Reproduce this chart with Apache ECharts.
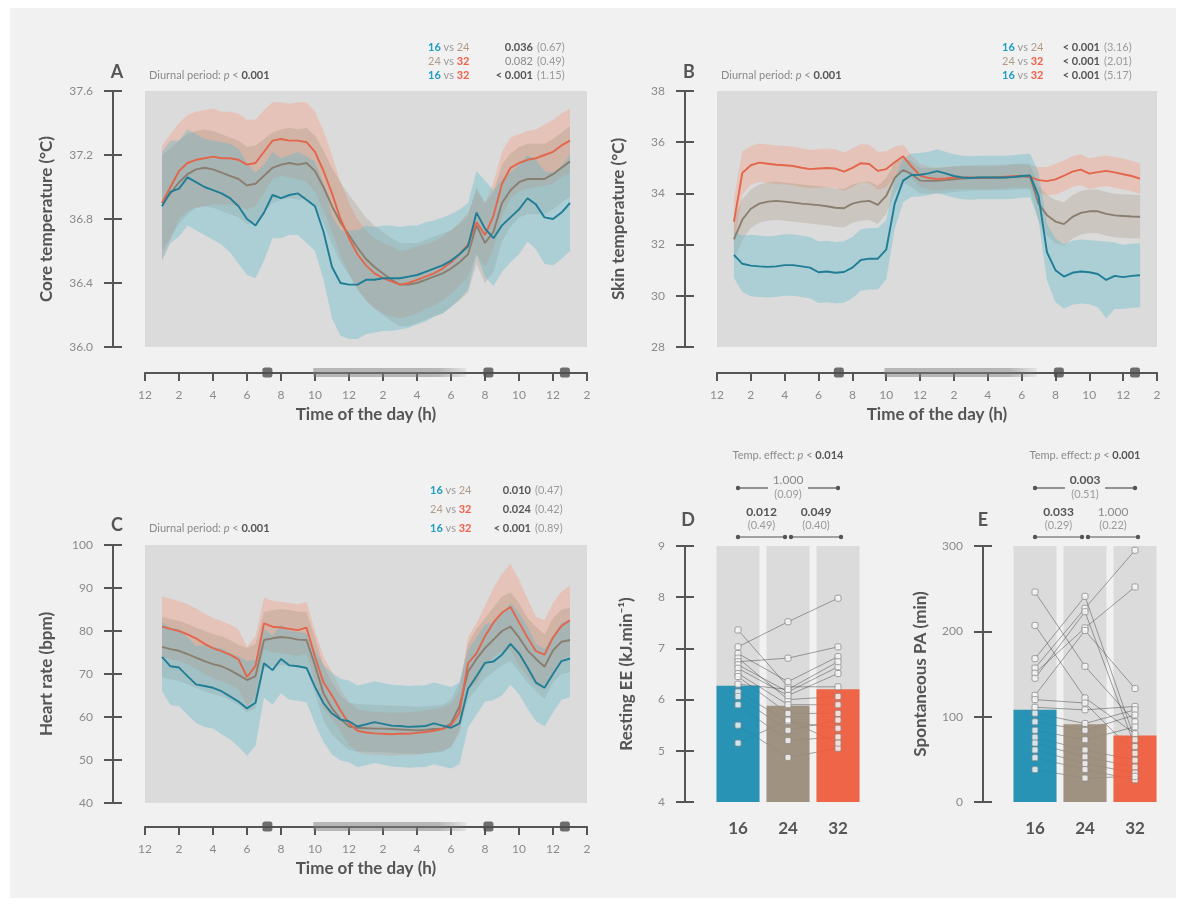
<!DOCTYPE html>
<html><head><meta charset="utf-8">
<script src="https://cdn.jsdelivr.net/npm/echarts@6/dist/echarts.min.js"></script>
<style>
html,body{margin:0;padding:0;background:#fff;}
#wrap{position:relative;width:1184px;height:906px;}
#bg{position:absolute;left:10px;top:8px;width:1166px;height:890px;background:#f1f1f1;}
#c{position:absolute;left:0;top:0;width:1184px;height:906px;}
</style></head><body>
<div id="wrap"><div id="bg"></div><div id="c"></div></div>
<script>
// ---------- DATA ----------
const hours = [1,1.5,2,2.5,3,3.5,4,4.5,5,5.5,6,6.5,7,7.5,8,8.5,9,9.5,10,10.5,11,11.5,12,12.5,13,13.5,14,14.5,15,15.5,16,16.5,17,17.5,18,18.5,19,19.5,20,20.5,21,21.5,22,22.5,23,23.5,24,24.5,25];

const coreMean16 = [36.88,36.97,36.99,37.06,37.03,37.0,36.98,36.96,36.93,36.88, 36.8,36.76,36.84,36.95,36.93,36.95,36.96,36.92,36.88,36.72, 36.5,36.4,36.39,36.39,36.42,36.42,36.43,36.43,36.43,36.44, 36.45,36.47,36.49,36.51,36.54,36.58,36.63,36.84,36.74,36.68, 36.76,36.81,36.86,36.93,36.89,36.81,36.8,36.84,36.9];
const coreMean24 = [36.9,36.96,37.03,37.08,37.11,37.12,37.11,37.09,37.07,37.05, 37.01,37.02,37.07,37.12,37.14,37.15,37.14,37.15,37.1,37.0, 36.88,36.78,36.7,36.62,36.55,36.5,36.46,36.42,36.39,36.39, 36.4,36.42,36.44,36.46,36.49,36.53,36.58,36.76,36.65,36.72, 36.9,36.98,37.03,37.05,37.05,37.05,37.08,37.12,37.16];
const coreMean32 = [36.9,37.0,37.1,37.15,37.17,37.18,37.19,37.18,37.18,37.17, 37.14,37.15,37.22,37.29,37.3,37.29,37.29,37.28,37.22,37.1, 36.96,36.8,36.68,36.58,36.51,36.46,36.43,36.41,36.39,36.4, 36.42,36.44,36.46,36.49,36.53,36.58,36.64,36.78,36.7,36.82, 37.02,37.12,37.15,37.17,37.18,37.2,37.22,37.26,37.29];
const coreSd16 = [0.34,0.32,0.3,0.3,0.3,0.3,0.31,0.32,0.34,0.36, 0.35,0.33,0.3,0.27,0.25,0.25,0.26,0.27,0.28,0.3, 0.32,0.33,0.34,0.34,0.34,0.33,0.33,0.33,0.32,0.32, 0.31,0.31,0.3,0.3,0.29,0.28,0.27,0.26,0.3,0.3, 0.29,0.28,0.28,0.27,0.28,0.29,0.29,0.29,0.3];
const coreSd24 = [0.3,0.28,0.26,0.25,0.24,0.24,0.24,0.24,0.24,0.24, 0.24,0.24,0.23,0.22,0.22,0.22,0.22,0.22,0.22,0.23, 0.24,0.25,0.25,0.26,0.26,0.26,0.26,0.26,0.26,0.26, 0.25,0.25,0.25,0.25,0.24,0.24,0.24,0.24,0.25,0.25, 0.24,0.23,0.22,0.22,0.22,0.22,0.22,0.22,0.22];
const coreSd32 = [0.36,0.33,0.3,0.3,0.3,0.3,0.3,0.29,0.29,0.29, 0.28,0.27,0.26,0.24,0.23,0.23,0.24,0.25,0.25,0.25, 0.24,0.23,0.22,0.22,0.22,0.22,0.22,0.22,0.21,0.21, 0.21,0.2,0.2,0.2,0.2,0.2,0.2,0.2,0.2,0.21, 0.2,0.19,0.18,0.18,0.18,0.19,0.2,0.2,0.2];

const skinMean16 = [31.6,31.25,31.18,31.15,31.13,31.15,31.2,31.2,31.15,31.1, 30.92,30.95,30.9,30.93,31.1,31.4,31.45,31.45,31.8,33.6, 34.5,34.72,34.73,34.78,34.87,34.78,34.68,34.62,34.6,34.62, 34.62,34.62,34.62,34.64,34.68,34.7,33.9,31.7,31.0,30.75, 30.9,30.95,30.92,30.85,30.62,30.78,30.73,30.78,30.8];
const skinMean24 = [32.2,32.98,33.4,33.6,33.68,33.71,33.68,33.64,33.6,33.57, 33.54,33.5,33.44,33.42,33.6,33.68,33.71,33.55,33.9,34.6, 34.92,34.75,34.5,34.49,34.49,34.52,34.55,34.58,34.6,34.62, 34.62,34.62,34.62,34.65,34.67,34.65,33.6,33.15,32.9,32.8, 33.08,33.24,33.3,33.3,33.2,33.14,33.12,33.1,33.09];
const skinMean32 = [32.9,34.8,35.1,35.2,35.16,35.12,35.1,35.07,35.0,34.95, 34.97,34.99,34.97,34.85,35.0,35.18,35.15,34.88,34.95,35.22, 35.45,35.05,34.7,34.6,34.56,34.58,34.62,34.62,34.62,34.6, 34.6,34.62,34.65,34.67,34.69,34.65,34.52,34.48,34.55,34.69, 34.85,34.93,34.77,34.83,34.88,34.82,34.75,34.68,34.58];
const skinSd16 = [0.9,1.1,1.2,1.2,1.2,1.2,1.2,1.2,1.2,1.2, 1.2,1.2,1.2,1.2,1.2,1.2,1.2,1.2,1.15,1.0, 0.85,0.85,0.85,0.85,0.85,0.85,0.85,0.85,0.85,0.85, 0.85,0.85,0.85,0.85,0.85,0.85,0.95,1.1,1.25,1.25, 1.25,1.25,1.25,1.3,1.5,1.3,1.25,1.25,1.25];
const skinSd24 = [0.8,0.8,0.75,0.75,0.75,0.75,0.75,0.75,0.75,0.75, 0.75,0.75,0.75,0.75,0.75,0.75,0.75,0.75,0.7,0.6, 0.5,0.5,0.5,0.5,0.5,0.5,0.5,0.5,0.5,0.5, 0.5,0.5,0.5,0.5,0.5,0.5,0.7,0.8,0.85,0.85, 0.85,0.85,0.85,0.85,0.85,0.85,0.85,0.85,0.85];
const skinSd32 = [0.9,0.85,0.75,0.75,0.75,0.75,0.75,0.75,0.75,0.75, 0.75,0.75,0.75,0.75,0.75,0.75,0.75,0.75,0.7,0.6, 0.45,0.45,0.45,0.45,0.45,0.45,0.45,0.45,0.45,0.45, 0.45,0.45,0.45,0.45,0.45,0.45,0.5,0.55,0.6,0.6, 0.6,0.6,0.6,0.6,0.6,0.6,0.6,0.6,0.6];

const hrMean16 = [74.0,71.8,71.5,69.5,67.6,67.2,66.8,66.0,64.8,63.6, 62.0,63.3,72.5,70.9,73.5,72.0,71.8,71.4,67.0,63.2, 60.8,59.4,59.0,57.8,58.3,58.8,58.4,58.0,57.9,57.7, 57.8,57.9,58.5,58.0,57.5,58.5,66.5,69.5,72.6,72.9, 74.5,77.0,74.8,71.5,68.0,66.8,70.0,73.0,73.6];
const hrMean24 = [76.3,75.8,75.4,74.6,73.8,73.0,72.3,71.8,70.9,69.8, 68.6,69.5,77.9,78.3,78.6,78.4,78.0,77.9,72.0,65.5, 62.0,59.5,57.8,57.5,57.4,57.3,57.3,57.2,57.1,57.0, 56.9,57.0,57.2,57.3,58.5,62.5,70.5,73.5,76.0,78.0, 80.0,81.0,78.5,75.5,73.5,71.7,75.5,77.5,77.9];
const hrMean32 = [81.0,80.5,80.0,79.2,78.3,77.0,76.0,75.3,74.5,73.4, 69.3,71.9,81.8,81.0,80.8,80.5,80.2,80.8,74.0,68.0, 65.0,61.5,58.5,56.8,56.4,56.2,56.1,56.0,56.1,56.1, 56.3,56.5,56.8,57.2,58.0,61.0,72.5,74.8,78.8,82.0, 84.3,85.6,82.0,78.5,75.3,74.5,78.5,81.2,82.5];
const hrSd16 = [8,9,9,9,9,9.5,9.5,10,10,10.5, 11,10,8,8,8,8,8,8,8.5,9, 9.5,9.5,9.5,9.5,9.5,9.5,9.5,9.5,9.5,9.5, 9.5,9.5,9.5,9.5,9.5,9.5,9,9,9,9, 9.5,9.5,9.5,9.5,9,9,9,9,9];
const hrSd24 = [7,7,7,7,7,7,7,7,7,7, 7.5,7.5,6.5,6.5,6.5,6.5,6.5,6.5,6.5,6.5, 6,5.5,5.5,5.5,5.5,5.5,5.5,5.5,5.5,5.5, 5.5,5.5,5.5,5.5,5.5,5.5,6.5,7,7,7.5, 8,8,8,7.5,7.5,7.5,7.5,7.5,7.5];
const hrSd32 = [7,7,7,7,7,7,7,7,7,7, 7,7,6,6,6,6,6,6,6,6, 5.5,5,5,5,5,5,5,5,5,5, 5,5,5,5,5,5,6,7,7,8, 9,10,10,9,8,8,8,8,8];

// time-axis markers (hours)
const greyPeriod = [9.9, 18.9];
const eventTimes = [7.2, 20.2, 24.7];

// bar panels
const conditions = ['16', '24', '32'];
const eeMeans = [6.27, 5.88, 6.2];
const paMeans = [108, 91, 78];
const eeSubj16 = [7.36, 7.03, 6.9, 6.81, 6.74, 6.68, 6.61, 6.51, 6.45, 6.3, 6.15, 6.06, 5.9, 5.5, 5.15];
const eeSubj24 = [6.25, 7.52, 6.35, 6.0, 6.81, 6.15, 6.08, 5.9, 5.73, 6.2, 5.57, 5.4, 5.2, 4.87, 5.6];
const eeSubj32 = [6.25, 7.98, 6.84, 6.06, 7.03, 6.64, 6.51, 5.9, 5.73, 6.74, 5.44, 5.6, 5.27, 5.05, 5.15];
const paSubj16 = [246, 207, 168, 157, 151, 145, 125, 120, 111, 104, 94, 84, 76, 69, 61, 52, 38];
const paSubj24 = [159, 122, 241, 227, 204, 223, 201, 116, 108, 92, 84, 73, 61, 53, 45, 38, 28];
const paSubj32 = [94, 80, 73, 295, 252, 65, 133, 57, 112, 108, 102, 88, 49, 41, 34, 26, 30];

// statistics text
const statsA = [['16','24','0.036',true,'(0.67)'],['24','32','0.082',false,'(0.49)'],['16','32','< 0.001',true,'(1.15)']];
const statsB = [['16','24','< 0.001',true,'(3.16)'],['24','32','< 0.001',true,'(2.01)'],['16','32','< 0.001',true,'(5.17)']];
const statsC = [['16','24','0.010',true,'(0.47)'],['24','32','0.024',true,'(0.42)'],['16','32','< 0.001',true,'(0.89)']];
const bracketsD = {effect:'0.014', top:['1.000',false,'(0.09)'], left:['0.012',true,'(0.49)'], right:['0.049',true,'(0.40)']};
const bracketsE = {effect:'0.001', top:['0.003',true,'(0.51)'], left:['0.033',true,'(0.29)'], right:['1.000',false,'(0.22)']};

// ---------- STYLE ----------
const FONT = 'Lato, "Open Sans", sans-serif';
const AX = '#555';
const LAB = '#8a8a8a';
const COL = {'16':'#1a8db2','24':'#9a8c7a','32':'#ef5b3c'};
const LINE = {'16':'#1f7d96','24':'#8a7e70','32':'#e3664c'};
const BAND = {'16':'rgba(85,182,202,0.35)','24':'rgba(160,142,122,0.28)','32':'rgba(248,150,118,0.34)'};
const TXT = {'16':'#1e9cc4','24':'#b09c86','32':'#f0604a'};

const chart = echarts.init(document.getElementById('c'));

const nameStyle = {color:'#555', fontSize:17, fontWeight:'bold', fontFamily:FONT};
const grids = [
  {left:145, top:91, width:442, height:256, show:true, backgroundColor:'#dbdbdb', borderWidth:0},
  {left:145, top:364, width:442, height:17},
  {left:717, top:91, width:440, height:256, show:true, backgroundColor:'#dbdbdb', borderWidth:0},
  {left:717, top:364, width:440, height:17},
  {left:145, top:545, width:442, height:258, show:true, backgroundColor:'#dbdbdb', borderWidth:0},
  {left:145, top:818, width:442, height:17},
  {left:713, top:546, width:150, height:256},
  {left:1010, top:546, width:150, height:256}
];

function hiddenX(gi){ return {gridIndex:gi, type:'value', min:0, max:26, show:false, position:'bottom'}; }
function timeX(gi){
  return [
    {gridIndex:gi, type:'value', min:0, max:26, interval:2, position:'bottom',
     axisLine:{show:true, onZero:true, lineStyle:{color:AX, width:2}},
     axisTick:{show:true, length:8, lineStyle:{color:AX, width:2}},
     axisLabel:{color:LAB, fontSize:12, fontFamily:FONT, margin:8, formatter:v => String(v % 12 === 0 ? 12 : v % 12)},
     splitLine:{show:false},
     name:'Time of the day (h)', nameLocation:'middle', nameGap:25, nameTextStyle:nameStyle},
    {gridIndex:gi, type:'value', min:0, max:26, interval:2, position:'bottom',
     axisLine:{show:false, onZero:true}, axisTick:{show:true, inside:true, length:8, lineStyle:{color:AX, width:2}},
     axisLabel:{show:false}, splitLine:{show:false}}
  ];
}
function valY(gi, min, max, interval, offset, name, nameGap, fmt){
  return [
    {gridIndex:gi, type:'value', min, max, interval, position:'left', offset,
     axisLine:{show:true, onZero:false, lineStyle:{color:AX, width:2}},
     axisTick:{show:true, length:9, lineStyle:{color:AX, width:2}},
     axisLabel:{color:LAB, fontSize:12, fontFamily:FONT, margin:20, formatter:fmt},
     splitLine:{show:false},
     name, nameLocation:'middle', nameGap, nameTextStyle:nameStyle},
    {gridIndex:gi, type:'value', min, max, interval, position:'left', offset,
     axisLine:{show:false, onZero:false}, axisTick:{show:true, inside:true, length:9, lineStyle:{color:AX, width:2}},
     axisLabel:{show:false}, splitLine:{show:false}}
  ];
}
function stripY(gi){ return {gridIndex:gi, type:'value', min:-1, max:1, show:false, position:'left'}; }
function catX(gi){
  return {gridIndex:gi, type:'category', data:conditions, position:'bottom',
    axisLine:{show:false}, axisTick:{show:false},
    axisLabel:{color:'#555', fontSize:17, fontWeight:'bold', fontFamily:FONT, margin:18}};
}

const xAxes = [hiddenX(0), ...timeX(1), hiddenX(2), ...timeX(3), hiddenX(4), ...timeX(5), catX(6), catX(7)];
const yAxes = [
  ...valY(0, 36, 37.6, 0.4, 32, 'Core temperature (°C)', 58, v => v.toFixed(1)),
  stripY(1),
  ...valY(2, 28, 38, 2, 32, 'Skin temperature (°C)', 58, v => String(Math.round(v))),
  stripY(3),
  ...valY(4, 40, 100, 10, 32, 'Heart rate (bpm)', 58, v => String(Math.round(v))),
  stripY(5),
  ...valY(6, 4, 9, 1, 28, 'Resting EE (kJ.min⁻¹)', 50, v => String(Math.round(v))),
  ...valY(7, 0, 300, 100, 27, 'Spontaneous PA (min)', 54, v => String(Math.round(v)))
];

const series = [];
function bandSeries(xi, yi, mean, sd, color){
  const pts = hours.map((h, i) => [h, +(mean[i] - sd[i]).toFixed(3), +(mean[i] + sd[i]).toFixed(3)]);
  return {type:'custom', xAxisIndex:xi, yAxisIndex:yi, silent:true, z:1, data:pts,
    encode:{x:0, y:[1, 2]},
    renderItem(params, api){
      if (params.dataIndex !== 0) return null;
      const up = pts.map(p => api.coord([p[0], p[2]]));
      const lo = pts.map(p => api.coord([p[0], p[1]])).reverse();
      return {type:'polygon', shape:{points:up.concat(lo)}, style:{fill:color}};
    }};
}
function timePanel(xi, yi, means, sds){
  ['32','24','16'].forEach(g => series.push(bandSeries(xi, yi, means[g], sds[g], BAND[g])));
  ['24','32','16'].forEach(g => {
    series.push({type:'line', xAxisIndex:xi, yAxisIndex:yi, symbol:'none', silent:true, z:3,
      lineStyle:{color:LINE[g], width:1.9}, data:hours.map((h, i) => [h, means[g][i]])});
  });
}
timePanel(0, 0, {'16':coreMean16,'24':coreMean24,'32':coreMean32}, {'16':coreSd16,'24':coreSd24,'32':coreSd32});
timePanel(3, 3, {'16':skinMean16,'24':skinMean24,'32':skinMean32}, {'16':skinSd16,'24':skinSd24,'32':skinSd32});
timePanel(6, 6, {'16':hrMean16,'24':hrMean24,'32':hrMean32}, {'16':hrSd16,'24':hrSd24,'32':hrSd32});

function strip(xi, yi){
  series.push({type:'line', xAxisIndex:xi, yAxisIndex:yi, symbol:'none', silent:true, z:4,
    data:greyPeriod.map(t => [t, 0]),
    lineStyle:{width:9, shadowBlur:3, shadowColor:'rgba(120,120,120,0.5)',
      color:new echarts.graphic.LinearGradient(0,0,1,0,[
        {offset:0, color:'rgba(125,125,125,0.5)'},{offset:0.8, color:'rgba(125,125,125,0.5)'},{offset:1, color:'rgba(125,125,125,0.05)'}])}});
  series.push({type:'scatter', xAxisIndex:xi, yAxisIndex:yi, symbol:'roundRect', symbolSize:10, silent:true, z:5,
    itemStyle:{color:'#4e4e4e'}, data:eventTimes.map(t => [t, 0])});
}
strip(1, 2); strip(4, 5); strip(7, 8);

function barPanel(xi, yi, means, subj, ymax){
  series.push({type:'bar', xAxisIndex:xi, yAxisIndex:yi, barWidth:43, barGap:'-100%', silent:true, z:1,
    itemStyle:{color:'#dbdbdb'}, data:conditions.map(() => ymax)});
  const n = subj[0].length;
  for (let k = 0; k < n; k++) {
    series.push({type:'line', xAxisIndex:xi, yAxisIndex:yi, symbol:'none', silent:true, z:2,
      lineStyle:{color:'#444', width:0.8, opacity:0.6},
      data:conditions.map((c, j) => [c, subj[j][k]])});
  }
  series.push({type:'bar', xAxisIndex:xi, yAxisIndex:yi, barWidth:43, barGap:'-100%', silent:true, z:3,
    data:means.map((v, j) => ({value:v, itemStyle:{color:COL[conditions[j]], opacity:0.93}}))});
  const pts = [];
  conditions.forEach((c, j) => subj[j].forEach(v => pts.push([c, v])));
  series.push({type:'scatter', xAxisIndex:xi, yAxisIndex:yi, symbol:'roundRect', symbolSize:6, silent:true, z:4,
    itemStyle:{color:'#fafafa', borderColor:'#8a8a8a', borderWidth:1}, data:pts});
}
barPanel(9, 9, eeMeans, [eeSubj16, eeSubj24, eeSubj32], 9);
barPanel(10, 11, paMeans, [paSubj16, paSubj24, paSubj32], 300);

chart.setOption({animation:false, grid:grids, xAxis:xAxes, yAxis:yAxes, series});

// ---------- ANNOTATIONS ----------
const G = [];
function txt(x, y, text, o){
  G.push({type:'text', x, y, silent:true, z:10, style:Object.assign({text, fill:'#8a8a8a', fontSize:11, fontFamily:FONT, align:'left', verticalAlign:'middle'}, o || {})});
}
const rich = {
  n:{fill:'#8a8a8a', fontSize:11, fontFamily:FONT},
  i:{fill:'#8a8a8a', fontSize:11, fontFamily:FONT, fontStyle:'italic'},
  b:{fill:'#555', fontSize:11, fontFamily:FONT, fontWeight:'bold'},
  g16:{fill:TXT['16'], fontSize:11, fontFamily:FONT, fontWeight:'bold'},
  g24:{fill:TXT['24'], fontSize:11, fontFamily:FONT},
  g32:{fill:TXT['32'], fontSize:11, fontFamily:FONT, fontWeight:'bold'},
  vs:{fill:'#9a9a9a', fontSize:11, fontFamily:FONT}
};
function letter(x, y, L){ txt(x, y, L, {fill:'#555', fontSize:18, fontWeight:'bold', align:'center'}); }
function diurnal(x, y){ txt(x, y, '{n|Diurnal period: }{i|p}{n| < }{b|0.001}', {rich}); }
function stats(xl, xp, xe, ys, rows){
  rows.forEach((r, k) => {
    txt(xl, ys[k], '{g'+r[0]+'|'+r[0]+'}{vs| vs }{g'+r[1]+'|'+r[1]+'}', {rich});
    txt(xp, ys[k], r[2], {align:'right', fill:r[3] ? '#555' : '#8a8a8a', fontWeight:r[3] ? 'bold' : 'normal'});
    txt(xe, ys[k], r[4], {fill:'#9a9a9a'});
  });
}
letter(117, 72, 'A'); letter(689, 72, 'B'); letter(117, 525, 'C'); letter(688, 520, 'D'); letter(983, 520, 'E');
diurnal(149, 75); diurnal(721, 75); diurnal(149, 528);
stats(428, 533, 537, [47, 61, 75], statsA);
stats(1002, 1100, 1104, [47, 61, 75], statsB);
stats(430, 531, 535, [490, 509, 528], statsC);

function brackets(xi, yi, b){
  const px = c => chart.convertToPixel({xAxisIndex:xi}, c);
  const c0 = px(conditions[0]), c1 = px(conditions[1]), c2 = px(conditions[2]);
  const mid = (c0 + c2) / 2;
  txt(mid, 455, '{n|Temp. effect: }{i|p}{n| < }{b|'+b.effect+'}', {rich, align:'center'});
  const seg = (x1, x2, y) => G.push({type:'line', silent:true, z:10, shape:{x1, y1:y, x2, y2:y}, style:{stroke:'#555', lineWidth:1.2}});
  const dot = (x, y) => G.push({type:'circle', silent:true, z:10, shape:{cx:x, cy:y, r:2.2}, style:{fill:'#555'}});
  seg(c0, mid - 20, 488); seg(mid + 20, c2, 488); dot(c0, 488); dot(c2, 488);
  txt(mid, 480, b.top[0], {align:'center', fill:b.top[1] ? '#555' : '#8a8a8a', fontWeight:b.top[1] ? 'bold' : 'normal', fontSize:12});
  txt(mid, 494, b.top[2], {align:'center', fill:'#9a9a9a', fontSize:11});
  const L = [c0, c1 - 3], R = [c1 + 3, c2 + 3];
  [[L, b.left], [R, b.right]].forEach(([s, t]) => {
    seg(s[0], s[1], 537); dot(s[0], 537); dot(s[1], 537);
    const m = (s[0] + s[1]) / 2;
    txt(m, 512, t[0], {align:'center', fill:t[1] ? '#555' : '#8a8a8a', fontWeight:t[1] ? 'bold' : 'normal', fontSize:12});
    txt(m, 525, t[2], {align:'center', fill:'#9a9a9a', fontSize:11});
  });
}
brackets(9, 9, bracketsD);
brackets(10, 11, bracketsE);

chart.setOption({graphic:{elements:G}});
</script></body></html>
